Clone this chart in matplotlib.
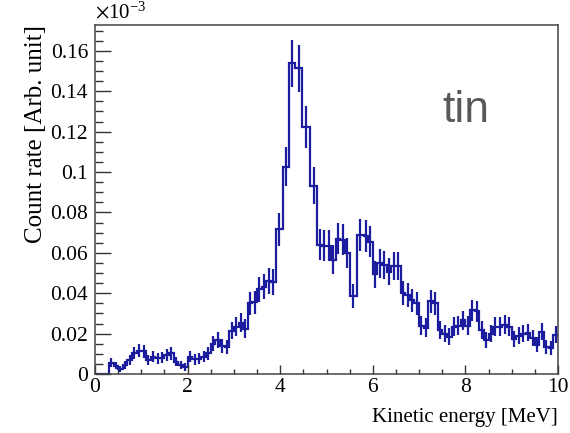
import numpy as np
import matplotlib.pyplot as plt
from matplotlib.ticker import MultipleLocator, FuncFormatter

plt.rcParams['font.family'] = ['Liberation Serif', 'DejaVu Serif']
plt.rcParams['mathtext.fontset'] = 'stix'

# Bin edges [MeV]: 0.1 MeV bins, wider bins around the main peak and the dip at 5.5 MeV
edges_low = np.round(np.arange(0, 40) * 0.1, 2)            # 0.0 ... 3.9
edges_peak = [4.05, 4.18, 4.33, 4.48, 4.64, 4.80]
edges_mid = [4.9, 5.0, 5.1, 5.2, 5.3, 5.4, 5.5, 5.65, 5.8]
edges_high = np.round(5.8 + np.arange(1, 43) * 0.1, 2)     # 5.9 ... 10.0
edges = np.concatenate([edges_low, edges_peak, edges_mid, edges_high])

# Count rate per bin, in units of 1e-3
rate_low = [0, 0, 0, 0.0056, 0.0042, 0.0024, 0.0045, 0.0069, 0.0105, 0.0115,
            0.0112, 0.0069, 0.0086, 0.0078, 0.0080, 0.0094, 0.0102, 0.0061, 0.0045, 0.0035,
            0.0086, 0.0072, 0.0076, 0.0086, 0.0102, 0.0150, 0.0168, 0.0140, 0.0132, 0.0215,
            0.0235, 0.0254, 0.0225, 0.0350, 0.0355, 0.0419, 0.0432, 0.0460, 0.0455]
rate_peak = [0.0716, 0.1026, 0.1538, 0.1513, 0.1224, 0.0932]
rate_mid = [0.0640, 0.0635, 0.0635, 0.0565, 0.0670, 0.0665, 0.0600, 0.0386, 0.0688]
rate_high = [0.0685, 0.0655, 0.0493, 0.0548, 0.0540, 0.0507, 0.0535, 0.0535, 0.0400, 0.0390,
             0.0365, 0.0350, 0.0240, 0.0230, 0.0360, 0.0350, 0.0220, 0.0200, 0.0185, 0.0235,
             0.0240, 0.0265, 0.0240, 0.0315, 0.0310, 0.0220, 0.0170, 0.0200, 0.0235, 0.0235,
             0.0245, 0.0235, 0.0175, 0.0190, 0.0200, 0.0205, 0.0180, 0.0145, 0.0210, 0.0135,
             0.0130, 0.0195]
rate = np.array(rate_low + rate_peak + rate_mid + rate_high)

# Poisson errors: each count adds this much to the rate
per_count = 9.0e-4
err = np.sqrt(rate * per_count)
centers = 0.5 * (edges[:-1] + edges[1:])

color = '#1c1c9e'

fig = plt.figure(figsize=(5.7, 4.33), dpi=100)
ax = fig.add_axes([95 / 570, 1 - 374 / 433, 463 / 570, 349 / 433])

ax.stairs(rate, edges, baseline=None, color=color, linewidth=1.6)
ax.errorbar(centers, rate, yerr=err, fmt='none', ecolor=color, elinewidth=1.6, capsize=0)

ax.set_xlim(0, 10)
ax.set_ylim(0, 0.1728)

ax.xaxis.set_major_locator(MultipleLocator(2))
ax.xaxis.set_minor_locator(MultipleLocator(0.5))
ax.yaxis.set_major_locator(MultipleLocator(0.02))
ax.yaxis.set_minor_locator(MultipleLocator(0.005))
ax.yaxis.set_major_formatter(FuncFormatter(lambda v, p: '%g' % round(v, 3)))

ax.tick_params(which='both', direction='in', top=False, right=False,
               color='#333333', labelsize=15.5, labelcolor='black')
ax.tick_params(axis='y', which='major', length=11.3, width=1.0, pad=5)
ax.tick_params(axis='y', which='minor', length=5.8, width=1.0)
ax.tick_params(axis='x', which='major', length=6.5, width=1.0, pad=3)
ax.tick_params(axis='x', which='minor', length=3.4, width=1.0)

for s in ax.spines.values():
    s.set_color('#444444')
    s.set_linewidth(1.1)

ax.set_xlabel('Kinetic energy [MeV]', fontsize=15, loc='right', labelpad=8)
ax.set_ylabel('Count rate [Arb. unit]', fontsize=18, loc='top', labelpad=2)

ax.text(0, 1.005, r'$\times\mathregular{10^{-3}}$', transform=ax.transAxes,
        fontsize=15, ha='left', va='bottom')

ax.text(7.5, 0.125, 'tin', fontsize=32, color='#595959',
        family=['Liberation Sans', 'DejaVu Sans'])

fig.savefig('out.png', dpi=100)
